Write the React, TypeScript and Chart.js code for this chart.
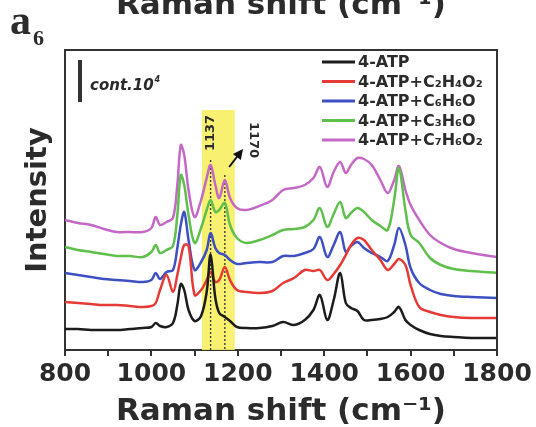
import { useEffect, useRef } from "react";
import { Chart, registerables } from "chart.js";

Chart.register(...registerables);

// Raman shift grid (cm^-1)
const wavenumbers = [800, 830, 860, 890, 920, 950, 980, 1000, 1010, 1020, 1035, 1050, 1060, 1068, 1076, 1086, 1100, 1115, 1128, 1137, 1148, 1157, 1170, 1182, 1198, 1220, 1250, 1280, 1305, 1330, 1355, 1375, 1390, 1407, 1422, 1437, 1450, 1462, 1477, 1492, 1510, 1530, 1547, 1562, 1573, 1588, 1600, 1620, 1645, 1670, 1700, 1740, 1800];

// Offset intensities (arbitrary units)
const atp = [21, 21, 20, 20, 20, 21, 22, 23, 27, 24, 23, 27, 45, 66, 60, 40, 29, 34, 58, 95, 52, 37, 33, 29, 23, 22, 22, 24, 28, 25, 30, 40, 55, 30, 50, 77, 47, 42, 39, 30, 30, 31, 33, 38, 43, 30, 25, 20, 16, 14, 13, 12, 12];
const atpC2H4O2 = [48, 47, 46, 45, 45, 44, 43, 44, 47, 60, 75, 58, 75, 92, 105, 104, 55, 60, 70, 78, 68, 70, 83, 70, 60, 58, 57, 59, 67, 72, 80, 79, 80, 70, 76, 85, 95, 105, 112, 110, 100, 90, 80, 86, 91, 85, 65, 43, 38, 35, 33, 32, 32];
const atpC6H6O = [77, 75, 73, 71, 70, 69, 68, 70, 77, 71, 78, 80, 102, 125, 138, 110, 80, 88, 100, 117, 102, 97, 95, 90, 86, 87, 88, 88, 94, 94, 97, 101, 113, 93, 105, 118, 98, 104, 108, 102, 97, 93, 89, 105, 122, 105, 82, 67, 60, 56, 54, 53, 52];
const atpC3H6O = [103, 100, 98, 96, 94, 94, 93, 98, 105, 97, 100, 104, 135, 175, 165, 135, 107, 122, 140, 150, 138, 140, 147, 125, 112, 107, 110, 115, 120, 121, 123, 130, 142, 123, 136, 148, 132, 137, 142, 138, 130, 124, 120, 150, 182, 140, 115, 107, 92, 85, 81, 79, 77];
const atpC7H6O2 = [130, 127, 125, 121, 118, 118, 118, 122, 133, 125, 128, 132, 165, 205, 195, 160, 133, 150, 172, 185, 165, 152, 170, 152, 142, 140, 144, 150, 160, 162, 165, 172, 183, 163, 178, 188, 177, 185, 192, 191, 185, 170, 157, 170, 184, 160, 145, 130, 115, 107, 101, 97, 93];

const seriesValues = [atp, atpC2H4O2, atpC6H6O, atpC3H6O, atpC7H6O2];
const seriesLabels = ["4-ATP", "4-ATP+C₂H₄O₂", "4-ATP+C₆H₆O", "4-ATP+C₃H₆O", "4-ATP+C₇H₆O₂"];
const seriesColors = ["#1c1c1c", "#e63a36", "#3d4fc2", "#5fbf4b", "#c468c6"];

const xTickLabels = [800, 1000, 1200, 1400, 1600, 1800];

// annotations (data coordinates)
const bandRange = [1117, 1193];
const bandTop = 240;
const markedPeaks = [1137, 1170];
const markedPeakLineTops = [190, 175];
const peakLabel1137 = { x: 1137, y: 217 };
const peakLabel1170 = { x: 1237, y: 210 };
const arrowFrom = { x: 1180, y: 183 };
const arrowTo = { x: 1212, y: 201 };

const INK = "#2b2b2b";
const SANS = "'DejaVu Sans', sans-serif";

const annotationPlugin = {
  id: "ramanAnnotations",
  beforeDatasetsDraw(chart: any) {
    const { ctx, chartArea, scales } = chart;
    const x = scales.x;
    const y = scales.y;
    ctx.save();
    const x0 = x.getPixelForValue(bandRange[0]);
    const x1 = x.getPixelForValue(bandRange[1]);
    const yt = y.getPixelForValue(bandTop);
    ctx.fillStyle = "rgba(246, 238, 98, 0.9)";
    ctx.fillRect(x0, yt, x1 - x0, chartArea.bottom - yt);
    ctx.setLineDash([2, 2]);
    ctx.strokeStyle = "#333";
    ctx.lineWidth = 1.3;
    markedPeaks.forEach((p, i) => {
      const px = x.getPixelForValue(p);
      ctx.beginPath();
      ctx.moveTo(px, y.getPixelForValue(markedPeakLineTops[i]));
      ctx.lineTo(px, chartArea.bottom);
      ctx.stroke();
    });
    ctx.restore();
  },
  afterDraw(chart: any) {
    const { ctx, chartArea, scales } = chart;
    const x = scales.x;
    const y = scales.y;
    ctx.save();

    // frame top & right
    ctx.strokeStyle = "#333";
    ctx.lineWidth = 2;
    ctx.beginPath();
    ctx.moveTo(chartArea.left, chartArea.top);
    ctx.lineTo(chartArea.right, chartArea.top);
    ctx.lineTo(chartArea.right, chartArea.bottom);
    ctx.stroke();

    // legend
    const lx0 = chartArea.right - 175;
    const lx1 = chartArea.right - 142;
    const tx = chartArea.right - 139;
    ctx.font = `bold 16px ${SANS}`;
    ctx.textBaseline = "middle";
    ctx.textAlign = "left";
    seriesLabels.forEach((label, i) => {
      const ry = chartArea.top + 12 + i * 19.5;
      ctx.strokeStyle = seriesColors[i];
      ctx.lineWidth = 3;
      ctx.beginPath();
      ctx.moveTo(lx0, ry);
      ctx.lineTo(lx1, ry);
      ctx.stroke();
      ctx.fillStyle = INK;
      ctx.fillText(label, tx, ry + 1);
    });

    // scale bar + cont. label
    ctx.strokeStyle = "#333";
    ctx.lineWidth = 4;
    ctx.beginPath();
    ctx.moveTo(chartArea.left + 15, chartArea.top + 10);
    ctx.lineTo(chartArea.left + 15, chartArea.top + 52);
    ctx.stroke();
    ctx.fillStyle = INK;
    ctx.textBaseline = "alphabetic";
    ctx.font = `italic bold 15px ${SANS}`;
    const contText = "cont.10";
    ctx.fillText(contText, chartArea.left + 25, chartArea.top + 40);
    const cw = ctx.measureText(contText).width;
    ctx.font = `italic bold 8px ${SANS}`;
    ctx.fillText("4", chartArea.left + 26 + cw, chartArea.top + 32);

    // peak labels
    ctx.font = `bold 13px ${SANS}`;
    ctx.textAlign = "center";
    ctx.textBaseline = "middle";
    ctx.save();
    ctx.translate(x.getPixelForValue(peakLabel1137.x), y.getPixelForValue(peakLabel1137.y));
    ctx.rotate(-Math.PI / 2);
    ctx.fillText("1137", 0, 0);
    ctx.restore();
    ctx.save();
    ctx.translate(x.getPixelForValue(peakLabel1170.x), y.getPixelForValue(peakLabel1170.y));
    ctx.rotate(Math.PI / 2);
    ctx.fillText("1170", 0, 0);
    ctx.restore();

    // arrow
    const ax0 = x.getPixelForValue(arrowFrom.x);
    const ay0 = y.getPixelForValue(arrowFrom.y);
    const ax1 = x.getPixelForValue(arrowTo.x);
    const ay1 = y.getPixelForValue(arrowTo.y);
    const ang = Math.atan2(ay1 - ay0, ax1 - ax0);
    ctx.strokeStyle = "#111";
    ctx.fillStyle = "#111";
    ctx.lineWidth = 2;
    ctx.beginPath();
    ctx.moveTo(ax0, ay0);
    ctx.lineTo(ax1 - 6 * Math.cos(ang), ay1 - 6 * Math.sin(ang));
    ctx.stroke();
    ctx.beginPath();
    ctx.moveTo(ax1, ay1);
    ctx.lineTo(ax1 - 10 * Math.cos(ang) + 5 * Math.sin(ang), ay1 - 10 * Math.sin(ang) - 5 * Math.cos(ang));
    ctx.lineTo(ax1 - 10 * Math.cos(ang) - 5 * Math.sin(ang), ay1 - 10 * Math.sin(ang) + 5 * Math.cos(ang));
    ctx.closePath();
    ctx.fill();

    // panel label and cut-off title of the panel above
    ctx.fillStyle = INK;
    ctx.textAlign = "left";
    ctx.textBaseline = "alphabetic";
    ctx.font = "bold 42px 'Liberation Serif', serif";
    ctx.fillText("a", 10, 34);
    ctx.font = "bold 22px 'Liberation Serif', serif";
    ctx.fillText("6", 33, 45);
    ctx.textAlign = "center";
    ctx.font = `bold 31px ${SANS}`;
    ctx.fillText("Raman shift (cm⁻¹)", (chartArea.left + chartArea.right) / 2, 14);

    ctx.restore();
  },
};

export default function App() {
  const canvasRef = useRef<HTMLCanvasElement | null>(null);

  useEffect(() => {
    if (!canvasRef.current) return;
    const datasets = seriesValues.map((vals, i) => ({
      label: seriesLabels[i],
      data: wavenumbers.map((w, j) => ({ x: w, y: vals[j] })),
      borderColor: seriesColors[i],
      backgroundColor: seriesColors[i],
      borderWidth: 2.5,
      pointRadius: 0,
      tension: 0.35,
      fill: false,
    }));
    const chart = new Chart(canvasRef.current, {
      type: "line",
      data: { datasets },
      options: {
        responsive: false,
        animation: false,
        devicePixelRatio: 1,
        layout: { padding: { top: 50, right: 39, left: 0, bottom: 0 } },
        plugins: { legend: { display: false }, tooltip: { enabled: false } },
        scales: {
          x: {
            type: "linear",
            min: 800,
            max: 1800,
            afterFit: (s: any) => {
              s.height = 77;
            },
            ticks: {
              stepSize: 100,
              autoSkip: false,
              maxRotation: 0,
              padding: 3,
              color: INK,
              font: { family: SANS, weight: "bold", size: 25, lineHeight: 1.2 },
              callback: (v: any) => (xTickLabels.includes(Number(v)) ? String(v) : ""),
            },
            grid: { display: true, drawOnChartArea: false, drawTicks: true, tickLength: 6, color: "#333", lineWidth: 2 },
            border: { display: true, color: "#333", width: 2 },
            title: {
              display: true,
              text: "Raman shift (cm⁻¹)",
              color: INK,
              font: { family: SANS, weight: "bold", size: 31, lineHeight: 1 },
              padding: 0,
            },
          },
          y: {
            min: 0,
            max: 300,
            afterFit: (s: any) => {
              s.width = 65;
            },
            ticks: { display: false },
            grid: { display: false },
            border: { display: true, color: "#333", width: 2 },
            title: {
              display: true,
              text: "Intensity",
              color: INK,
              font: { family: SANS, weight: "bold", size: 29, lineHeight: 1.2 },
              padding: { top: 21, bottom: 0 },
            },
          },
        },
      } as any,
      plugins: [annotationPlugin],
    });
    return () => chart.destroy();
  }, []);

  return (
    <canvas
      ref={canvasRef}
      width={536}
      height={427}
      style={{ position: "fixed", left: 0, top: 0, width: 536, height: 427 }}
    />
  );
}
